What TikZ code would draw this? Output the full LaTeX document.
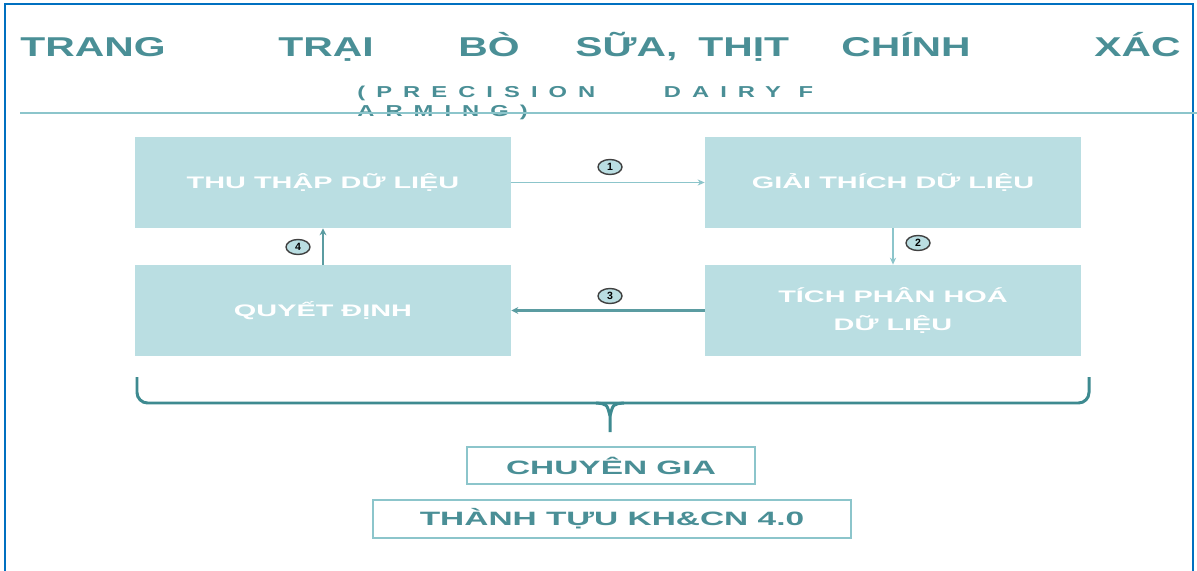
\documentclass[tikz,border=0pt]{standalone}
\usepackage{fontspec}
\setmainfont{Liberation Sans}
\newfontfamily\boxfont{Liberation Sans}[FakeStretch=1.73]
\newfontfamily\titlefont{Liberation Sans}[FakeStretch=1.5]
\newfontfamily\subfont{Liberation Sans}[LetterSpace=70,FakeStretch=1.5]
\usetikzlibrary{arrows.meta,shapes.geometric}
\definecolor{boxfill}{HTML}{BADEE2}
\definecolor{tealtext}{HTML}{4A8F96}
\definecolor{tealline}{HTML}{8CC5CB}
\definecolor{tealdark}{HTML}{3E8A90}
\definecolor{frameblue}{HTML}{0070C0}

\begin{document}
\begin{tikzpicture}[x=0.02cm,y=-0.02cm,
  stepbox/.style={fill=boxfill, minimum width=7.52cm, minimum height=1.82cm, align=center,
    text=white, font=\boxfont\bfseries\fontsize{9.5}{15.5}\selectfont},
  outbox/.style={draw=tealline, line width=1.1pt, minimum height=0.75cm, text=tealtext,
    font=\boxfont\bfseries\fontsize{11}{13}\selectfont},
  word/.style={anchor=base west, inner sep=0pt, text=tealtext,
    font=\titlefont\bfseries\fontsize{15.5}{18}\selectfont},
  numlabel/.style={ellipse, draw=black!75, fill=boxfill, line width=0.8pt, inner sep=0pt,
    minimum width=0.48cm, minimum height=0.3cm, font=\bfseries\fontsize{6}{6}\selectfont},
  thinarrow/.style={-{Stealth[length=4pt,width=3.5pt]}, color=tealline, line width=0.9pt},
  thickarrow/.style={-{Stealth[length=4pt,width=4pt]}, color=tealdark!85, line width=1.7pt}]

\useasboundingbox (0,0) rectangle (1197,571);
\fill[white] (0,0) rectangle (1197,571);

\draw[frameblue, line width=1.2pt] (5,575) -- (5,4) -- (1193,4) -- (1193,575);

% tieu de
\node[word] (wTrang) at (20,57) {TRANG};
\node[word] (wTrai) at (278,57) {TRẠI};
\node[word] (wBo) at (458,57) {BÒ};
\node[word] (wSua) at (575,57) {SỮA,};
\node[word] (wThit) at (698,57) {THỊT};
\node[word] (wChinh) at (841,57) {CHÍNH};
\node[word] (wXac) at (1094,57) {XÁC};

\node[anchor=north west, inner sep=0pt, align=left, text=tealtext,
  font=\subfont\bfseries\fontsize{9}{10.8}\selectfont] (subtitle) at (357,86)
  {(PRECISION\hspace{39pt}DAIRY F\\ARMING)};

\draw[tealline, line width=1.2pt] (20,113) -- (1197,113);

% cac buoc
\node[stepbox] (collect) at (323,182.5) {THU THẬP DỮ LIỆU};
\node[stepbox] (interpret) at (893,182.5) {GIẢI THÍCH DỮ LIỆU};
\node[stepbox] (decide) at (323,310.5) {QUYẾT ĐỊNH};
\node[stepbox] (integrate) at (893,310.5) {TÍCH PHÂN HOÁ\\DỮ LIỆU};

\draw[thinarrow] (collect) -- (interpret);
\draw[thinarrow] (interpret) -- (integrate);
\draw[thickarrow] (integrate) -- (decide);
\draw[thickarrow] (decide) -- (collect);

\node[numlabel] (n1) at (610,167) {1};
\node[numlabel] (n2) at (918,243) {2};
\node[numlabel] (n3) at (610,296) {3};
\node[numlabel] (n4) at (298,247) {4};

% ngoac
\draw[tealdark, line width=1.7pt, rounded corners=6pt] (137,377) -- (137,403) -- (1089,403) -- (1089,377);
\draw[tealdark, line width=1.7pt] (596,403) .. controls (607,404) .. (610,416) -- (610,432);
\draw[tealdark, line width=1.7pt] (624,403) .. controls (613,404) .. (610,416);

\node[outbox, minimum width=5.76cm] (expert) at (611,465.5) {CHUYÊN GIA};
\node[outbox, minimum width=9.56cm] (achieve) at (612,519) {THÀNH TỰU KH\&CN 4.0};

\end{tikzpicture}
\end{document}
